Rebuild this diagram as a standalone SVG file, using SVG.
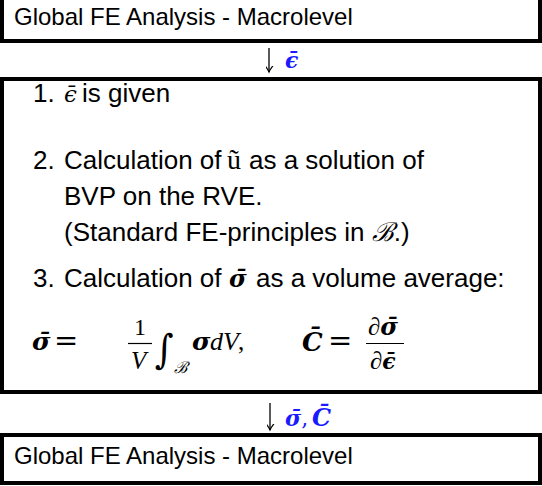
<svg xmlns="http://www.w3.org/2000/svg" width="542" height="486" viewBox="0 0 542 486">
<style>
.box{fill:#fff;stroke:#000;stroke-width:4}
.t{font-family:"Liberation Sans",Arial,sans-serif;font-size:24px;fill:#000}
.it{font-family:"Liberation Sans",Arial,sans-serif;font-size:26px;fill:#000}
.m{font-family:"DejaVu Serif","Liberation Serif",serif;font-style:italic;fill:#000}
.mi{font-family:"Liberation Serif","DejaVu Serif",serif;font-style:italic;fill:#000}
.mb{font-family:"DejaVu Serif","Liberation Serif",serif;font-style:italic;font-weight:bold}
.mr{font-family:"Liberation Serif","DejaVu Serif",serif;fill:#000}
.eq{font-family:"DejaVu Sans",sans-serif;fill:#000}
.blue{fill:#1a1aff}
.conn{stroke:#000;stroke-width:1.3;fill:none}
.bar{stroke:#000;stroke-width:1.2}
</style>
<defs>
<marker id="ah" markerWidth="12" markerHeight="12" refX="0" refY="0" viewBox="-6 -8 12 10" orient="auto-start-reverse" markerUnits="userSpaceOnUse">
<path d="M-4.5,-7 Q-1,-2.5 0,0 Q1,-2.5 4.5,-7" stroke="#000" stroke-width="1.2" fill="none" transform="rotate(-90)"/>
</marker>
</defs>
<rect width="542" height="486" fill="#fff"/>

<g id="connectors">
<line class="conn" x1="269" y1="48" x2="269" y2="72" marker-end="url(#ah)"/>
<text class="mb blue" x="285" y="68" font-size="22">ϵ̄</text>
<line class="conn" x1="270" y1="403" x2="270" y2="430" marker-end="url(#ah)"/>
<text class="mb blue" x="285" y="426" font-size="22">σ̄<tspan font-style="normal" font-weight="normal">,</tspan></text>
<text class="mb blue" x="312" y="426" font-size="24">C̄</text>
</g>

<g id="macro-top">
<rect class="box" x="2" y="-2" width="538" height="43"/>
<text class="t" x="14" y="25">Global FE Analysis - Macrolevel</text>
</g>

<g id="micro">
<rect class="box" x="2" y="79" width="538" height="313"/>
<text class="it" x="33" y="102">1.</text>
<text class="m" x="64" y="102" font-size="23">ϵ̄</text>
<text class="it" x="82" y="102">is given</text>

<text class="it" x="33" y="169">2.</text>
<text class="it" x="64" y="169">Calculation of</text>
<text class="mr" x="227" y="169" font-size="28">ũ</text>
<text class="it" x="249" y="169">as a solution of</text>
<text class="it" x="64" y="205">BVP on the RVE.</text>
<text class="it" x="64" y="241">(Standard FE-principles in <tspan class="mi" font-size="26">ℬ</tspan>.)</text>

<text class="it" x="33" y="287">3.</text>
<text class="it" x="64" y="287">Calculation of</text>
<text class="mb" x="229" y="287" font-size="24">σ̄</text>
<text class="it" x="256" y="287">as a volume average:</text>

<text class="mb" x="32" y="350" font-size="25">σ̄</text>
<text class="eq" x="54" y="350" font-size="29">=</text>
<text class="mr" x="134" y="335" font-size="24">1</text>
<line class="bar" x1="128" y1="343.5" x2="152" y2="343.5"/>
<text class="mi" x="131" y="369" font-size="25">V</text>
<text class="m" x="155" y="360" font-size="36" transform="translate(0,-40) scale(1,1.12)">∫</text>
<text class="mi" x="174" y="373" font-size="16">ℬ</text>
<text class="mb" x="192" y="350" font-size="25">σ</text>
<text class="mi" x="210" y="350" font-size="26">dV</text>
<text class="mr" x="238" y="350" font-size="25">,</text>

<text class="mb" x="302" y="351" font-size="26">C̄</text>
<text class="eq" x="328" y="350" font-size="29">=</text>
<text class="mi" x="368" y="335" font-size="25">∂<tspan class="mb" font-size="24">σ̄</tspan></text>
<line class="bar" x1="366" y1="343.5" x2="404" y2="343.5"/>
<text class="mi" x="370" y="369" font-size="25">∂<tspan class="mb" font-size="22">ϵ̄</tspan></text>
</g>

<g id="macro-bottom">
<rect class="box" x="2" y="435" width="538" height="48"/>
<text class="t" x="14" y="464">Global FE Analysis - Macrolevel</text>
</g>
</svg>
